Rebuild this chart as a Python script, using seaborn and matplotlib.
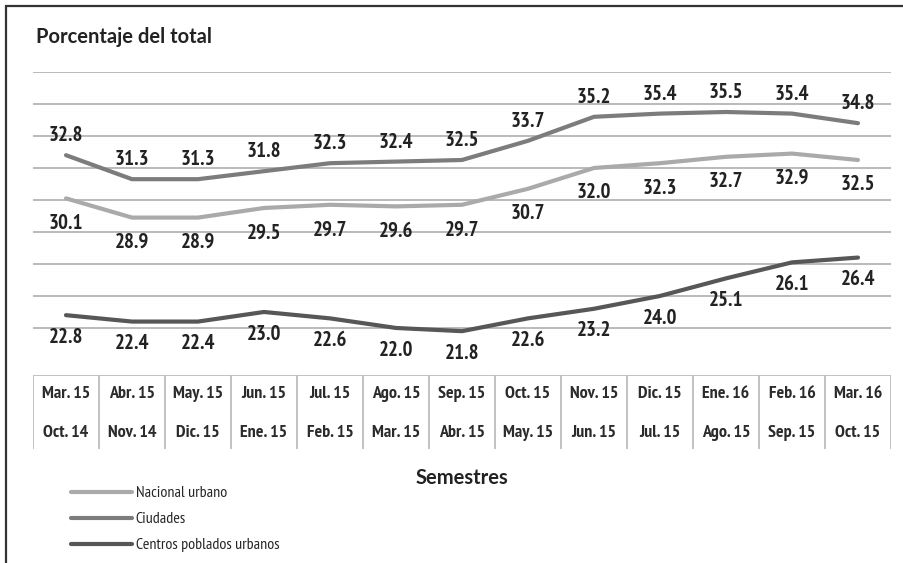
import numpy as np
import pandas as pd
import matplotlib
matplotlib.use("Agg")
import matplotlib.pyplot as plt
import seaborn as sns
from matplotlib.lines import Line2D
from matplotlib.patches import Rectangle

# Periodos (fin / inicio del semestre)
fin_periodo = ['Mar. 15', 'Abr. 15', 'May. 15', 'Jun. 15', 'Jul. 15', 'Ago. 15', 'Sep. 15',
               'Oct. 15', 'Nov. 15', 'Dic. 15', 'Ene. 16', 'Feb. 16', 'Mar. 16']
inicio_periodo = ['Oct. 14', 'Nov. 14', 'Dic. 15', 'Ene. 15', 'Feb. 15', 'Mar. 15', 'Abr. 15',
                  'May. 15', 'Jun. 15', 'Jul. 15', 'Ago. 15', 'Sep. 15', 'Oct. 15']

# Porcentaje del total por serie
nacional = [30.1, 28.9, 28.9, 29.5, 29.7, 29.6, 29.7, 30.7, 32.0, 32.3, 32.7, 32.9, 32.5]
ciudades = [32.8, 31.3, 31.3, 31.8, 32.3, 32.4, 32.5, 33.7, 35.2, 35.4, 35.5, 35.4, 34.8]
centros = [22.8, 22.4, 22.4, 23.0, 22.6, 22.0, 21.8, 22.6, 23.2, 24.0, 25.1, 26.1, 26.4]

series = ['Nacional urbano', 'Ciudades', 'Centros poblados urbanos']
colores = ['#aaaaaa', '#7c7c7c', '#575757']
desplaz = [-18, 14, -16]  # posicion de las etiquetas (puntos)

W, H = 904, 563

df = pd.DataFrame({
    'pos': list(range(len(fin_periodo))) * 3,
    'valor': nacional + ciudades + centros,
    'serie': np.repeat(series, len(fin_periodo)),
})

sns.set_style('white')
angosta = ['PT Sans Narrow', 'Roboto Condensed', 'Liberation Sans', 'DejaVu Sans']
ancha = ['Lato', 'DejaVu Sans']
plt.rcParams['font.family'] = angosta

fig = plt.figure(figsize=(W / 100, H / 100), dpi=100)
izq, der = 33 / W, 891 / W
ax = fig.add_axes([izq, 1 - 375 / H, der - izq, (375 - 72) / H])

sns.lineplot(data=df, x='pos', y='valor', hue='serie', palette=dict(zip(series, colores)),
             linewidth=3, legend=False, ax=ax)

# etiquetas de valores
for nombre, off in zip(series, desplaz):
    sub = df[df['serie'] == nombre]
    for x, v in zip(sub['pos'], sub['valor']):
        ax.annotate(f'{v:.1f}', (x, v), xytext=(0, off), textcoords='offset points',
                    ha='center', va='center', fontsize=15, fontweight='bold', color='#222222')

ax.set_xlim(-0.5, len(fin_periodo) - 0.5)
ax.set_ylim(19.06, 38.0)
ax.set_yticks(np.arange(22, 39, 2))
ax.set_xticks([])
ax.yaxis.grid(True, color='#aeaeae', linewidth=1.2)
ax.tick_params(left=False, labelleft=False)
ax.set_xlabel('')
ax.set_ylabel('')
for s in ax.spines.values():
    s.set_visible(False)

# tabla de periodos
tax = fig.add_axes([izq, 1 - 449 / H, der - izq, (449 - 375) / H])
tax.set_xlim(ax.get_xlim())
tax.set_ylim(0, 1)
bordes = np.arange(len(fin_periodo) + 1) - 0.5
tax.vlines(bordes, 0, 1, color='#bdbdbd', linewidth=1.3)
tax.hlines(1, bordes[0], bordes[-1], color='#bdbdbd', linewidth=1.3)
for i, (a, b) in enumerate(zip(fin_periodo, inicio_periodo)):
    tax.text(i, 0.743, a, ha='center', va='center', fontsize=13, fontweight='bold', color='#2b2b2b')
    tax.text(i, 0.216, b, ha='center', va='center', fontsize=13, fontweight='bold', color='#2b2b2b')
tax.axis('off')

# titulos
fig.text(36 / W, 1 - 37 / H, 'Porcentaje del total', ha='left', va='center',
         fontsize=14.5, fontweight='bold', family=ancha, color='#222222')
fig.text(462 / W, 1 - 478 / H, 'Semestres', ha='center', va='center',
         fontsize=14.5, fontweight='bold', family=ancha, color='#222222')

# leyenda
handles = [Line2D([], [], color=c, linewidth=3) for c in colores]
fig.legend(handles, series, loc='upper left', bbox_to_anchor=(71 / W, 1 - 486 / H),
           frameon=False, handlelength=3.8, handletextpad=0.25, labelspacing=0.75,
           borderpad=0, borderaxespad=0, fontsize=11.5)

# marco exterior (solo izquierda y arriba visibles)
fig.add_artist(Rectangle((6 / W, -0.5), 2, 0.5 + 1 - 6 / H, transform=fig.transFigure,
                         fill=False, edgecolor='#333333', linewidth=1.6))

fig.savefig('out.png', dpi=100)
